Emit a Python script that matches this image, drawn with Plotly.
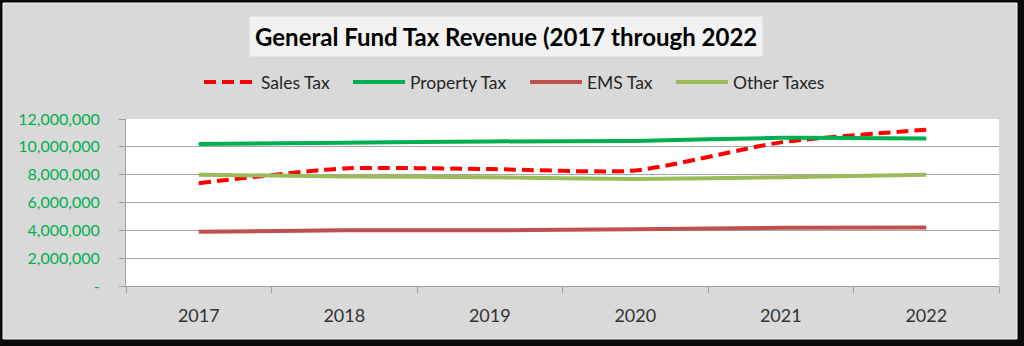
import plotly.graph_objects as go

years = ["2017", "2018", "2019", "2020", "2021", "2022"]
sales_tax = [7390000, 8450000, 8400000, 8300000, 10320000, 11230000]
property_tax = [10200000, 10300000, 10390000, 10420000, 10650000, 10600000]
ems_tax = [3890000, 4000000, 4000000, 4080000, 4180000, 4200000]
other_taxes = [8000000, 7870000, 7820000, 7680000, 7820000, 8000000]
y_ticks = [0, 2000000, 4000000, 6000000, 8000000, 10000000, 12000000]
y_tick_text = ["-", "2,000,000", "4,000,000", "6,000,000", "8,000,000", "10,000,000", "12,000,000"]

W, H = 1024, 346
L, R, T, B = 126, 25, 119, 60
PW, PH = W - L - R, H - T - B

def px_x(p):
    return (p - L) / PW

def px_y(p):
    return 1 - (p - T) / PH

FONT = "Lato"

fig = go.Figure()
series = [
    ("Sales Tax", sales_tax, "#FF0000", "12px,6px", "legend", 204),
    ("Property Tax", property_tax, "#00B050", "solid", "legend2", 353),
    ("EMS Tax", ems_tax, "#C0504D", "solid", "legend3", 530),
    ("Other Taxes", other_taxes, "#9BBB59", "solid", "legend4", 676),
]
legends = {}
for name, vals, col, dash, lg, lx in series:
    fig.add_trace(go.Scatter(
        x=years, y=vals, name=name, mode="lines", legend=lg,
        line=dict(color=col, width=4, dash=dash, shape="spline", smoothing=0.6),
    ))
    legends[lg] = dict(orientation="h", x=px_x(lx - 5), xanchor="left", y=px_y(82), yanchor="middle",
                       font=dict(family=FONT, size=17.5, color="#262626"),
                       bgcolor="rgba(0,0,0,0)", itemwidth=52)

shapes = [
    dict(type="rect", xref="paper", yref="paper", layer="below",
         x0=px_x(3), x1=px_x(1017), y0=px_y(339), y1=px_y(3),
         fillcolor="#D9D9D9", line=dict(color="#EFEFEF", width=1)),
    dict(type="rect", xref="paper", yref="paper", layer="below",
         x0=0, x1=1, y0=0, y1=1, fillcolor="white", line=dict(width=0)),
]

fig.update_layout(
    width=W, height=H,
    margin=dict(l=L, r=R, t=T, b=B),
    paper_bgcolor="#0A0A0A",
    plot_bgcolor="white",
    shapes=shapes,
    showlegend=True,
    annotations=[dict(
        text="<b>General Fund Tax Revenue (2017 through 2022</b>",
        xref="paper", yref="paper", x=px_x(506), y=px_y(36),
        xanchor="center", yanchor="middle", showarrow=False,
        font=dict(family=FONT, size=24, color="black"),
        bgcolor="#F2F2F2", borderpad=5,
    )],
    xaxis=dict(
        type="category", tickson="boundaries", ticks="outside", ticklen=6,
        tickcolor="#A0A0A0", showline=True, linecolor="#A0A0A0", linewidth=1,
        showgrid=False, tickfont=dict(family=FONT, size=18, color="#333333"),
        ticklabelstandoff=13, range=[-0.5, 5.5],
    ),
    yaxis=dict(
        range=[0, 12000000], tickvals=y_ticks, ticktext=y_tick_text,
        ticks="outside", ticklen=6, tickcolor="#A0A0A0",
        showline=True, linecolor="#A0A0A0", linewidth=1,
        showgrid=True, gridcolor="#A6A6A6", gridwidth=1, zeroline=False,
        tickfont=dict(family=FONT, size=16, color="#00B050"),
        ticklabelstandoff=16,
    ),
)
fig.update_layout(**legends)

fig.write_html("out.html")
